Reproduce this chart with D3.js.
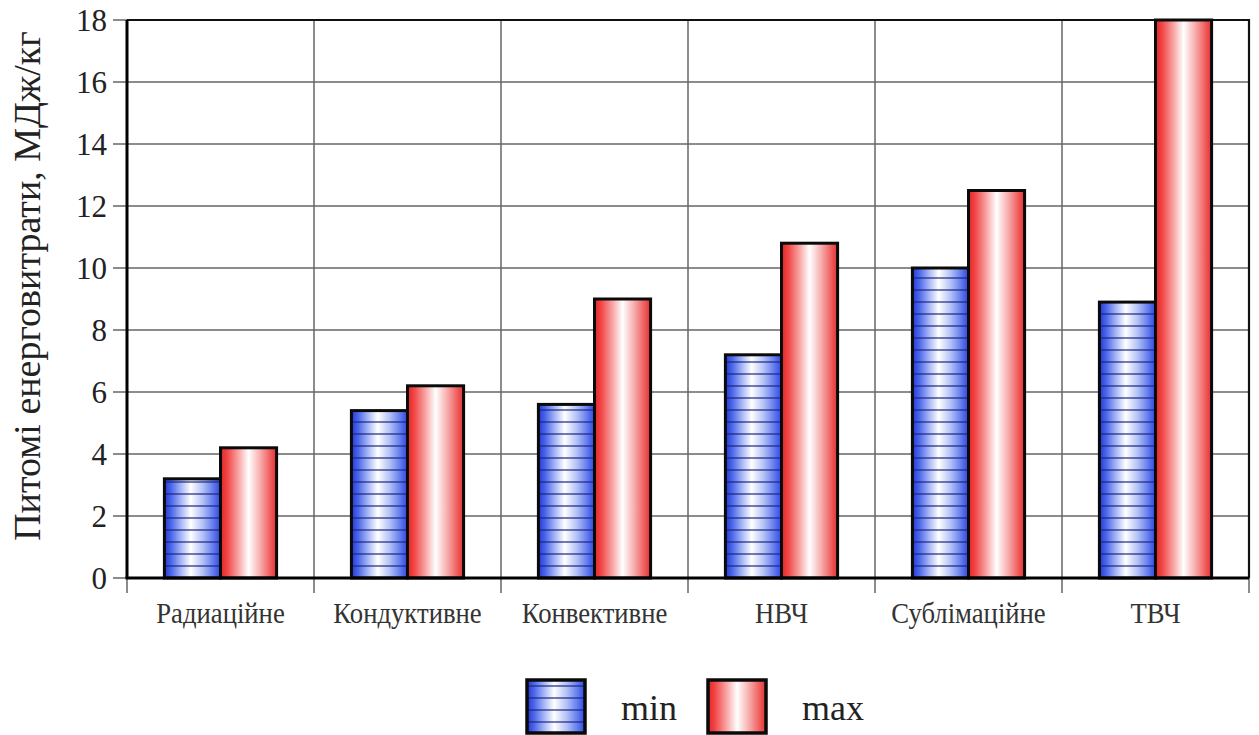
<!DOCTYPE html>
<html>
<head>
<meta charset="utf-8">
<script src="https://cdn.jsdelivr.net/npm/d3@7"></script>
<style>
  html, body { margin: 0; padding: 0; background: #fff; }
</style>
</head>
<body>
<svg id="chart" width="1259" height="735"></svg>
<script>
// Specific energy consumption of drying methods, MJ/kg
const categories = ["Радиаційне", "Кондуктивне", "Конвективне", "НВЧ", "Сублімаційне", "ТВЧ"];
const minValues = [3.2, 5.4, 5.6, 7.2, 10.0, 8.9];
const maxValues = [4.2, 6.2, 9.0, 10.8, 12.5, 18.0];
const seriesNames = ["min", "max"];
const yTicks = [0, 2, 4, 6, 8, 10, 12, 14, 16, 18];
const yTitle = "Питомі енерговитрати, МДж/кг";

const FONT = "Liberation Serif";

const svg = d3.select("#chart");
const margin = { left: 127, top: 20, right: 10, bottom: 157 };
const W = 1259, H = 735;
const innerW = W - margin.left - margin.right;
const innerH = H - margin.top - margin.bottom;

const defs = svg.append("defs");

// Horizontal shading for the two series
function gradient(id, stops) {
  const g = defs.append("linearGradient").attr("id", id)
    .attr("x1", "0%").attr("x2", "100%").attr("y1", "0%").attr("y2", "0%");
  stops.forEach(([o, c]) => g.append("stop").attr("offset", o).attr("stop-color", c));
}
gradient("gMin", [["0%", "#2438d4"], ["12%", "#4a66ea"], ["30%", "#a8b8f6"], ["47%", "#ffffff"], ["68%", "#b4c2f6"], ["88%", "#5e78ee"], ["100%", "#3044dc"]]);
gradient("gMax", [["0%", "#e02626"], ["12%", "#f24646"], ["32%", "#f8a4a4"], ["50%", "#ffffff"], ["70%", "#f8b0b0"], ["88%", "#f06060"], ["100%", "#e03232"]]);

// Horizontal hatch lines of the "min" series
const hatch = defs.append("pattern").attr("id", "hatch")
  .attr("patternUnits", "userSpaceOnUse").attr("width", 12).attr("height", 12);
hatch.append("line").attr("x1", 0).attr("x2", 12).attr("y1", 6).attr("y2", 6)
  .attr("stroke", "#1a2480").attr("stroke-width", 1.5).attr("stroke-opacity", 0.8);

const g = svg.append("g").attr("transform", `translate(${margin.left},${margin.top})`);

const x = d3.scaleBand().domain(categories).range([0, innerW]).padding(0);
const groupPad = 0.2;
const xs = d3.scaleBand().domain(seriesNames)
  .range([x.bandwidth() * groupPad, x.bandwidth() * (1 - groupPad)]).padding(0);
const y = d3.scaleLinear().domain([0, 18]).range([innerH, 0]);

// Horizontal grid
g.append("g").selectAll("line").data(yTicks).join("line")
  .attr("x1", -14).attr("x2", innerW)
  .attr("y1", d => y(d)).attr("y2", d => y(d))
  .attr("stroke", "#666").attr("stroke-width", 1.5);

// Vertical grid at category boundaries
const bounds = categories.map(c => x(c)).concat([innerW]);
g.append("g").selectAll("line").data(bounds.slice(1, -1)).join("line")
  .attr("x1", d => d).attr("x2", d => d)
  .attr("y1", 0).attr("y2", innerH)
  .attr("stroke", "#666").attr("stroke-width", 1.5);

// Category tick marks below the axis
g.append("g").selectAll("line").data(bounds).join("line")
  .attr("x1", d => d).attr("x2", d => d)
  .attr("y1", innerH).attr("y2", innerH + 15)
  .attr("stroke", "#666").attr("stroke-width", 1.5);

// Plot frame: top and right
g.append("path")
  .attr("d", `M0,0H${innerW}V${innerH}`)
  .attr("fill", "none").attr("stroke", "#111").attr("stroke-width", 2.2);

// Bars
const rows = categories.map((c, i) => ({ cat: c, values: [minValues[i], maxValues[i]] }));
const groups = g.append("g").selectAll("g").data(rows).join("g")
  .attr("transform", d => `translate(${x(d.cat)},0)`);

groups.each(function (d) {
  const grp = d3.select(this);
  seriesNames.forEach((s, k) => {
    const v = d.values[k];
    const rx = xs(s), ry = y(v), rw = xs.bandwidth(), rh = innerH - y(v);
    grp.append("rect").attr("x", rx).attr("y", ry).attr("width", rw).attr("height", rh)
      .attr("fill", k === 0 ? "url(#gMin)" : "url(#gMax)");
    if (k === 0) {
      grp.append("rect").attr("x", rx).attr("y", ry).attr("width", rw).attr("height", rh)
        .attr("fill", "url(#hatch)");
    }
    grp.append("rect").attr("x", rx).attr("y", ry).attr("width", rw).attr("height", rh)
      .attr("fill", "none").attr("stroke", "#0a0a0a").attr("stroke-width", 3);
  });
});

// Axes lines
g.append("line").attr("x1", 0).attr("x2", 0).attr("y1", 0).attr("y2", innerH)
  .attr("stroke", "#000").attr("stroke-width", 3);
g.append("line").attr("x1", -1.5).attr("x2", innerW).attr("y1", innerH).attr("y2", innerH)
  .attr("stroke", "#000").attr("stroke-width", 3);

// Y tick labels
g.append("g").selectAll("text").data(yTicks).join("text")
  .attr("x", -20).attr("y", d => y(d)).attr("dy", "0.34em")
  .attr("text-anchor", "end").attr("font-family", FONT).attr("font-size", 31).attr("fill", "#222")
  .text(d => d);

// Category labels (slightly condensed)
g.append("g").selectAll("text").data(categories).join("text")
  .attr("transform", d => `translate(${x(d) + x.bandwidth() / 2},${innerH + 45}) scale(0.89,1)`)
  .attr("text-anchor", "middle").attr("font-family", FONT).attr("font-size", 30).attr("fill", "#333")
  .text(d => d);

// Y axis title
svg.append("text")
  .attr("transform", `translate(40,286) rotate(-90)`)
  .attr("text-anchor", "middle").attr("font-family", FONT).attr("font-size", 38).attr("fill", "#222")
  .text(yTitle);

// Legend
const legend = svg.append("g").attr("transform", "translate(527,680)");
const legendItems = [
  { name: "min", fill: "url(#gMin)", hatch: true, x: 0 },
  { name: "max", fill: "url(#gMax)", hatch: false, x: 181 }
];
legendItems.forEach(it => {
  const li = legend.append("g").attr("transform", `translate(${it.x},0)`);
  li.append("rect").attr("width", 58).attr("height", 53).attr("fill", it.fill);
  if (it.hatch) li.append("rect").attr("width", 58).attr("height", 53).attr("fill", "url(#hatch)");
  li.append("rect").attr("width", 58).attr("height", 53).attr("fill", "none")
    .attr("stroke", "#0a0a0a").attr("stroke-width", 3.5);
  li.append("text").attr("x", 94).attr("y", 40).attr("font-family", FONT).attr("font-size", 36).attr("fill", "#222")
    .text(it.name);
});
</script>
</body>
</html>
